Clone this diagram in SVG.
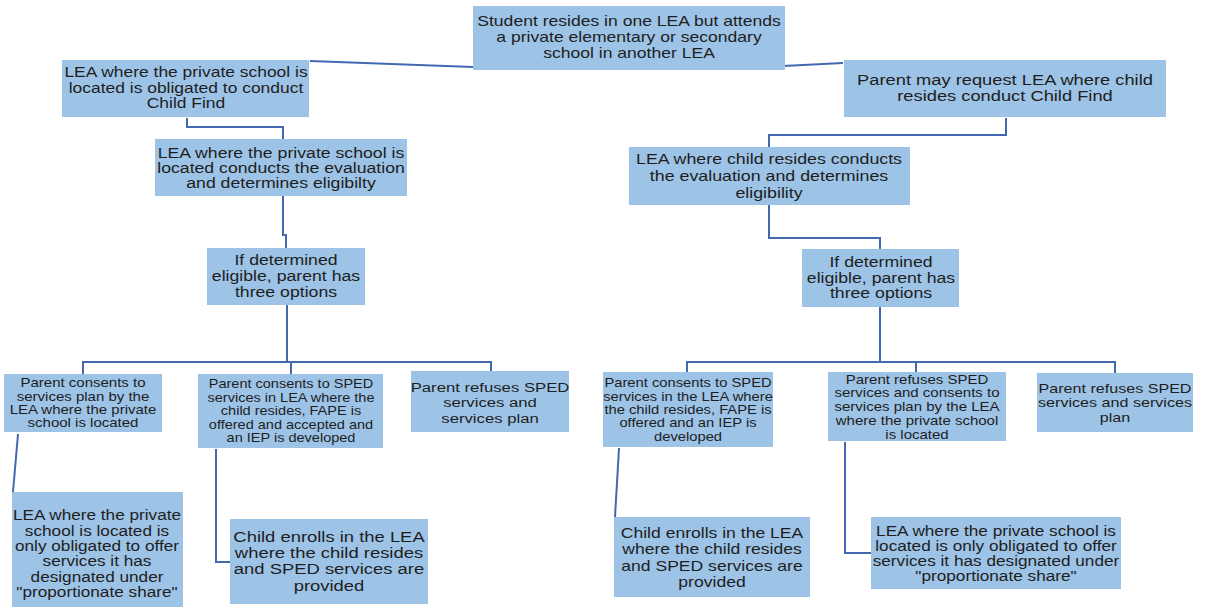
<svg xmlns="http://www.w3.org/2000/svg" width="1205" height="607" viewBox="0 0 1205 607">
<style>
.bg{fill:#ffffff}
.box{fill:#9dc3e6}
.c{fill:none;stroke:#4468b0;stroke-width:2}
text{font-family:"Liberation Sans",Arial,sans-serif;fill:#1e1e1e;text-anchor:middle}
</style>
<rect class="bg" x="0" y="0" width="1205" height="607"/>
<g id="connectors">
<path class="c" d="M473,67 L310,61"/>
<path class="c" d="M783,66 L843,63"/>
<path class="c" d="M187,118 V127 H283 V139"/>
<path class="c" d="M1006,118 V135 H769 V147"/>
<path class="c" d="M283,196 V235 H286 V248"/>
<path class="c" d="M769,205 V238 H880 V249"/>
<path class="c" d="M287,305 V362 M83,362 H491 M83,361 V374 M291,362 V374 M491,361 V371"/>
<path class="c" d="M880,307 V362 M687,362 H1115 M687,361 V372 M916,362 V372 M1115,361 V373"/>
<path class="c" d="M18,434 L13,492"/>
<path class="c" d="M216,449 V562 H230"/>
<path class="c" d="M619,448 L615,517"/>
<path class="c" d="M845,442 V553 H871"/>
</g>
<g id="n-top">
<rect class="box" x="473" y="6" width="312" height="64"/>
<text transform="translate(629,0) scale(1.22,1)" font-size="14.4"><tspan x="0" y="26">Student resides in one LEA but attends</tspan><tspan x="0" y="42">a private elementary or secondary</tspan><tspan x="0" y="58">school in another LEA</tspan></text>
</g>
<g id="n-left1">
<rect class="box" x="62" y="60" width="247" height="57"/>
<text transform="translate(186,0) scale(1.22,1)" font-size="14.3"><tspan x="0" y="77.5">LEA where the private school is</tspan><tspan x="0" y="93">located is obligated to conduct</tspan><tspan x="0" y="108.5">Child Find</tspan></text>
</g>
<g id="n-right1">
<rect class="box" x="844" y="60" width="322" height="57"/>
<text transform="translate(1005,0) scale(1.22,1)" font-size="15"><tspan x="0" y="85.5">Parent may request LEA where child</tspan><tspan x="0" y="101.5">resides conduct Child Find</tspan></text>
</g>
<g id="n-left2">
<rect class="box" x="155" y="139" width="252" height="57"/>
<text transform="translate(281,0) scale(1.22,1)" font-size="14.5"><tspan x="0" y="158.5">LEA where the private school is</tspan><tspan x="0" y="173.5">located conducts the evaluation</tspan><tspan x="0" y="188.5">and determines eligibilty</tspan></text>
</g>
<g id="n-right2">
<rect class="box" x="629" y="147" width="281" height="58"/>
<text transform="translate(769,0) scale(1.22,1)" font-size="14.6"><tspan x="0" y="164">LEA where child resides conducts</tspan><tspan x="0" y="181">the evaluation and determines</tspan><tspan x="0" y="198">eligibility</tspan></text>
</g>
<g id="n-left3">
<rect class="box" x="207" y="248" width="158" height="57"/>
<text transform="translate(286,0) scale(1.22,1)" font-size="14.5"><tspan x="0" y="265.5">If determined</tspan><tspan x="0" y="281.5">eligible, parent has</tspan><tspan x="0" y="297.5">three options</tspan></text>
</g>
<g id="n-right3">
<rect class="box" x="802" y="249" width="157" height="58"/>
<text transform="translate(881,0) scale(1.22,1)" font-size="14.5"><tspan x="0" y="267.5">If determined</tspan><tspan x="0" y="283">eligible, parent has</tspan><tspan x="0" y="298.5">three options</tspan></text>
</g>
<g id="n-L1">
<rect class="box" x="4" y="374" width="158" height="58"/>
<text transform="translate(83,0) scale(1.22,1)" font-size="12.3"><tspan x="0" y="387.5">Parent consents to</tspan><tspan x="0" y="401.5">services plan by the</tspan><tspan x="0" y="414.5">LEA where the private</tspan><tspan x="0" y="427.5">school is located</tspan></text>
</g>
<g id="n-L2">
<rect class="box" x="198" y="374" width="185" height="74"/>
<text transform="translate(291,0) scale(1.22,1)" font-size="11.9"><tspan x="0" y="388.5">Parent consents to SPED</tspan><tspan x="0" y="402">services in LEA where the</tspan><tspan x="0" y="415.5">child resides, FAPE is</tspan><tspan x="0" y="429">offered and accepted and</tspan><tspan x="0" y="442.5">an IEP is developed</tspan></text>
</g>
<g id="n-L3">
<rect class="box" x="411" y="371" width="158" height="61"/>
<text transform="translate(490,0) scale(1.22,1)" font-size="13.7"><tspan x="0" y="392">Parent refuses SPED</tspan><tspan x="0" y="407.5">services and</tspan><tspan x="0" y="423">services plan</tspan></text>
</g>
<g id="n-R1">
<rect class="box" x="603" y="372" width="170" height="75"/>
<text transform="translate(688,0) scale(1.22,1)" font-size="12.1"><tspan x="0" y="387.5">Parent consents to SPED</tspan><tspan x="0" y="401.5">services in the LEA where</tspan><tspan x="0" y="414.5">the child resides, FAPE is</tspan><tspan x="0" y="427.5">offered and an IEP is</tspan><tspan x="0" y="441.5">developed</tspan></text>
</g>
<g id="n-R2">
<rect class="box" x="828" y="372" width="178" height="69"/>
<text transform="translate(917,0) scale(1.22,1)" font-size="12.3"><tspan x="0" y="384.5">Parent refuses SPED</tspan><tspan x="0" y="397.5">services and consents to</tspan><tspan x="0" y="411.5">services plan by the LEA</tspan><tspan x="0" y="425.5">where the private school</tspan><tspan x="0" y="439.5">is located</tspan></text>
</g>
<g id="n-R3">
<rect class="box" x="1037" y="373" width="156" height="59"/>
<text transform="translate(1115,0) scale(1.22,1)" font-size="13.2"><tspan x="0" y="393">Parent refuses SPED</tspan><tspan x="0" y="407">services and services</tspan><tspan x="0" y="422">plan</tspan></text>
</g>
<g id="n-L4">
<rect class="box" x="12" y="492" width="171" height="115"/>
<text transform="translate(97,0) scale(1.22,1)" font-size="14.1"><tspan x="0" y="520">LEA where the private</tspan><tspan x="0" y="536">school is located is</tspan><tspan x="0" y="551">only obligated to offer</tspan><tspan x="0" y="566">services it has</tspan><tspan x="0" y="582">designated under</tspan><tspan x="0" y="597">"proportionate share"</tspan></text>
</g>
<g id="n-L5">
<rect class="box" x="230" y="519" width="198" height="85"/>
<text transform="translate(329,0) scale(1.22,1)" font-size="15.1"><tspan x="0" y="542.5">Child enrolls in the LEA</tspan><tspan x="0" y="558.5">where the child resides</tspan><tspan x="0" y="574.5">and SPED services are</tspan><tspan x="0" y="591.5">provided</tspan></text>
</g>
<g id="n-R4">
<rect class="box" x="614" y="517" width="196" height="80"/>
<text transform="translate(712,0) scale(1.22,1)" font-size="14.4"><tspan x="0" y="538.5">Child enrolls in the LEA</tspan><tspan x="0" y="554.5">where the child resides</tspan><tspan x="0" y="571.5">and SPED services are</tspan><tspan x="0" y="587.5">provided</tspan></text>
</g>
<g id="n-R5">
<rect class="box" x="871" y="517" width="250" height="72"/>
<text transform="translate(996,0) scale(1.22,1)" font-size="14.1"><tspan x="0" y="536">LEA where the private school is</tspan><tspan x="0" y="551">located is only obligated to offer</tspan><tspan x="0" y="566">services it has designated under</tspan><tspan x="0" y="581">"proportionate share"</tspan></text>
</g>
</svg>
